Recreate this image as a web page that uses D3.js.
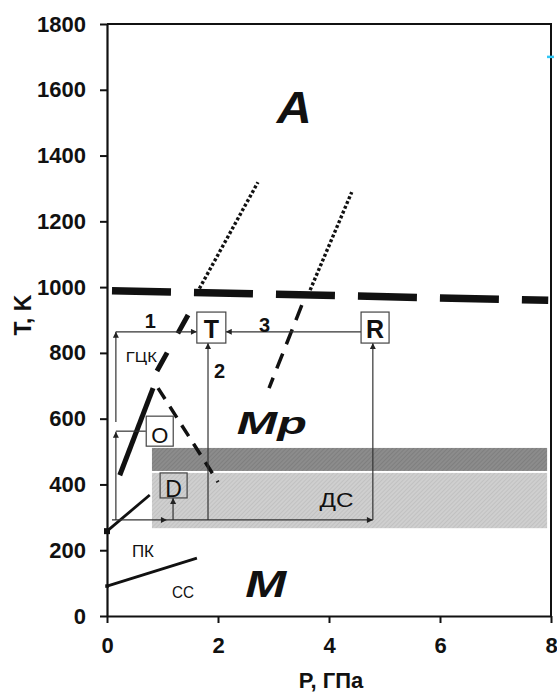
<!DOCTYPE html>
<html>
<head>
<meta charset="utf-8">
<script src="https://cdn.jsdelivr.net/npm/d3@7/dist/d3.min.js"></script>
<style>
  html, body { margin: 0; padding: 0; background: #fff; }
  svg { display: block; font-family: "Liberation Sans", Arial, sans-serif; }
</style>
</head>
<body>
<div id="chart"></div>
<script>
// фазовая диаграмма T–P: области A / Mp / M, граница ГЦК–ПК–СС, пути 1-2-3
const X_TICKS = [0, 2, 4, 6, 8];
const Y_TICKS = [0, 200, 400, 600, 800, 1000, 1200, 1400, 1600, 1800];

// границы фаз [P, T]
const LINE_A = [[0.09, 989], [7.95, 960]];          // A / Mp, жирный штрих
const DOT_1 = [[1.62, 982], [2.72, 1319]];
const DOT_2 = [[3.66, 991], [4.41, 1289]];
const DASH_MP = [[3.51, 945], [2.92, 693]];
const FCC_SOLID = [[0.23, 428], [0.83, 693]];
const FCC_DASH = [[0.90, 745], [1.46, 915]];
const DASH_O = [[0.92, 693], [2.0, 407]];
const PK_LINE = [[0, 258], [0.77, 368]];
const CC_LINE = [[0, 91], [1.62, 176]];

// полосы: [P0, P1, T0, T1]
const BAND_DARK = [0.81, 7.93, 441, 511];
const BAND_LIGHT = [0.81, 7.93, 267, 435];

// стрелки путей [[P,T],[P,T]]
const ARROWS = [
  [[0.09, 292], [1.08, 292]],
  [[1.08, 292], [4.79, 292]],
  [[0.16, 292], [0.16, 560]],
  [[0.16, 590], [0.16, 864]],
  [[0.16, 864], [1.62, 864]],
  [[1.82, 292], [1.82, 830]],
  [[1.19, 292], [1.19, 359]],
  [[4.79, 292], [4.79, 830]],
  [[4.58, 864], [2.14, 864]],
];
const PLAIN = [[[0.16, 562], [0.70, 562]]];

// рамки-метки: [текст, P, T, ширина, высота, кегль, жирный, сдвиг базовой линии]
const BOXES = [
  ["T", 1.88, 877, 29, 31, 25, true, 10.5],
  ["R", 4.83, 877, 28, 31, 25, true, 10.5],
  ["O", 0.95, 562, 27, 30, 22, false, 11.5],
  ["D", 1.20, 397, 27, 25, 23, false, 12],
];

// подписи: [текст, P, T, кегль, стиль, ширина]
const LABELS = [
  ["A", 3.06, 1499, 44, "bi", 35],
  ["Mp", 2.34, 553, 31, "bi", 70],
  ["M", 2.49, 58, 36, "bi", 41],
  ["ГЦК", 0.34, 772, 15, "n", 31],
  ["ПК", 0.45, 180, 16, "n", 22],
  ["СС", 1.17, 55, 16, "n", 22],
  ["ДС", 3.83, 330, 20, "n", 34],
  ["1", 0.68, 876, 20, "b", 0],
  ["2", 1.93, 724, 20, "b", 0],
  ["3", 2.74, 863, 20, "b", 0],
];

const DOTS = [[0, 258, 6], [0, 91, 3.5]];
const CYAN = [8, 1700];

const W = 557, H = 695;
const x = d3.scaleLinear().domain([0, 8]).range([107, 551]);
const y = d3.scaleLinear().domain([0, 1800]).range([616, 24]);
const INK = "#111";
const FF = "'Liberation Sans', Arial, sans-serif";

const svg = d3.select("#chart").append("svg").attr("width", W).attr("height", H);
const defs = svg.append("defs");

function hatch(id, bg, fg) {
  const p = defs.append("pattern").attr("id", id).attr("width", 3).attr("height", 3)
    .attr("patternUnits", "userSpaceOnUse").attr("patternTransform", "rotate(45)");
  p.append("rect").attr("width", 3).attr("height", 3).attr("fill", bg);
  p.append("line").attr("x1", 0).attr("y1", 0).attr("x2", 0).attr("y2", 3)
    .attr("stroke", fg).attr("stroke-width", 1);
}
hatch("hDark", "#8c8c8c", "#727272");
hatch("hLight", "#cfcfcf", "#b3b3b3");

defs.append("marker").attr("id", "arr").attr("viewBox", "0 0 10 10")
  .attr("refX", 10).attr("refY", 5).attr("markerWidth", 7).attr("markerHeight", 6)
  .attr("markerUnits", "userSpaceOnUse").attr("orient", "auto")
  .append("path").attr("d", "M0,0 L10,5 L0,10 Z").attr("fill", "#222");

// полосы
[[BAND_DARK, "url(#hDark)"], [BAND_LIGHT, "url(#hLight)"]].forEach(([b, f]) => {
  svg.append("rect")
    .attr("x", x(b[0])).attr("width", x(b[1]) - x(b[0]))
    .attr("y", y(b[3])).attr("height", y(b[2]) - y(b[3]))
    .attr("fill", f);
});

// оси
const gy = svg.append("g").attr("transform", `translate(${x(0)},0)`)
  .call(d3.axisLeft(y).tickValues(Y_TICKS).tickFormat(d3.format("d"))
    .tickSize(7).tickPadding(14).tickSizeOuter(0));
const gx = svg.append("g").attr("transform", `translate(0,${y(0)})`)
  .call(d3.axisBottom(x).tickValues(X_TICKS).tickFormat(d3.format("d"))
    .tickSize(7).tickPadding(14).tickSizeOuter(0));
[gx, gy].forEach(g => {
  g.select(".domain").attr("stroke", INK).attr("stroke-width", 2.2);
  g.selectAll(".tick line").attr("stroke", INK).attr("stroke-width", 2);
  g.selectAll(".tick text").attr("fill", INK).attr("style", `font:bold 22px ${FF}`);
});
// рамка сверху и справа
svg.append("path")
  .attr("d", `M${x(0)},${y(1800)} H${x(8)} V${y(0)}`)
  .attr("fill", "none").attr("stroke", INK).attr("stroke-width", 2);
svg.append("line")
  .attr("x1", x(CYAN[0]) - 4).attr("x2", x(CYAN[0]) + 3)
  .attr("y1", y(CYAN[1])).attr("y2", y(CYAN[1]))
  .attr("stroke", "#2fc6f5").attr("stroke-width", 2.5);

svg.append("text").attr("transform", `translate(31,${y(915)}) rotate(-90)`)
  .attr("text-anchor", "middle").attr("fill", INK)
  .attr("style", `font:bold 23px ${FF}`).text("T, K");
svg.append("text").attr("x", 331).attr("y", 688)
  .attr("text-anchor", "middle").attr("fill", INK)
  .attr("style", `font:bold 22px ${FF}`).text("P, ГПа");

// границы
const line = d3.line().x(d => x(d[0])).y(d => y(d[1]));
function seg(data, w, dash) {
  svg.append("path").attr("d", line(data)).attr("fill", "none")
    .attr("stroke", INK).attr("stroke-width", w)
    .attr("stroke-dasharray", dash || null);
}
seg(LINE_A, 7.5, "59,23");
seg(DOT_1, 3.4, "3,2.2");
seg(DOT_2, 3.4, "3,2.2");
seg(DASH_MP, 3.5, "16,10");
seg(FCC_SOLID, 5);
seg(FCC_DASH, 5, "21,22");
seg(DASH_O, 3.5, "13,9");
seg(PK_LINE, 2.8);
seg(CC_LINE, 2.8);

DOTS.forEach(d => {
  svg.append("rect").attr("x", x(d[0]) - d[2] / 2).attr("y", y(d[1]) - d[2] / 2)
    .attr("width", d[2]).attr("height", d[2]).attr("fill", INK);
});

// пути
ARROWS.forEach(a => {
  svg.append("path").attr("d", line(a)).attr("fill", "none")
    .attr("stroke", "#333").attr("stroke-width", 1.2).attr("marker-end", "url(#arr)");
});
PLAIN.forEach(a => {
  svg.append("path").attr("d", line(a)).attr("fill", "none")
    .attr("stroke", "#333").attr("stroke-width", 1.2);
});

BOXES.forEach(([t, p, tk, bw, bh, sz, bold, dy]) => {
  const cx = x(p), cy = y(tk);
  svg.append("rect").attr("x", cx - bw / 2).attr("y", cy - bh / 2)
    .attr("width", bw).attr("height", bh)
    .attr("fill", t === "D" ? "none" : "#fff").attr("stroke", "#444").attr("stroke-width", 1.2);
  svg.append("text").attr("x", cx).attr("y", cy + dy).attr("text-anchor", "middle")
    .attr("fill", INK)
    .attr("style", `font:${bold ? "bold" : "normal"} ${sz}px ${FF}`)
    .text(t);
});

LABELS.forEach(([t, p, tk, sz, st, len]) => {
  const wgt = st.includes("b") ? "bold" : "normal";
  const ital = st.includes("i") ? "italic" : "normal";
  const tx = svg.append("text").attr("x", x(p)).attr("y", y(tk)).attr("fill", INK)
    .attr("style", `font:${ital} ${wgt} ${sz}px ${FF}`)
    .text(t);
  if (len) tx.attr("textLength", len).attr("lengthAdjust", "spacingAndGlyphs");
});
</script>
</body>
</html>
